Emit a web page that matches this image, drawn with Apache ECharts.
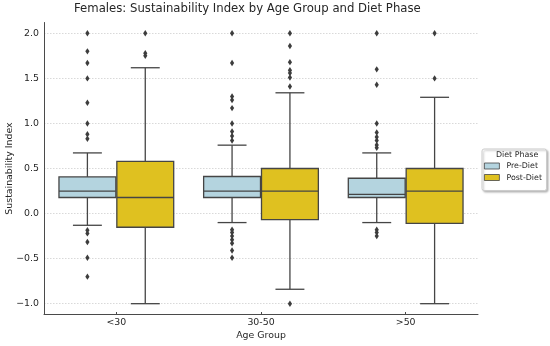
<!DOCTYPE html>
<html><head><meta charset="utf-8">
<script src="https://cdn.jsdelivr.net/npm/echarts@6/dist/echarts.min.js"></script>
<style>html,body{margin:0;padding:0;background:#fff}#c{width:550px;height:346px}</style>
</head><body><div id="c"></div>
<script>
// ---- data ----
const categories = ['<30', '30-50', '>50'];
const phases = ['Pre-Diet', 'Post-Diet'];
// each box: [lower whisker, Q1, median, Q3, upper whisker]
const preBoxes = [
  [-0.13, 0.178, 0.25, 0.407, 0.673],
  [-0.10, 0.178, 0.25, 0.411, 0.759],
  [-0.10, 0.178, 0.214, 0.392, 0.673]
];
const postBoxes = [
  [-1.0, -0.152, 0.178, 0.578, 1.618],
  [-0.84, -0.067, 0.25, 0.50, 1.34],
  [-1.0, -0.108, 0.25, 0.50, 1.29]
];
const preOutliers = [
  [2.0, 1.80, 1.67, 1.50, 1.23, 1.0, 0.88, 0.83, -0.185, -0.22, -0.315, -0.49, -0.70],
  [2.0, 1.67, 1.30, 1.26, 1.17, 1.0, 0.91, 0.86, 0.81, -0.18, -0.21, -0.25, -0.29, -0.33, -0.41, -0.49],
  [2.0, 1.60, 1.43, 1.0, 0.90, 0.85, 0.81, 0.76, 0.73, -0.18, -0.21, -0.25]
];
const postOutliers = [
  [2.0, 1.78, 1.75],
  [2.0, 1.86, 1.68, 1.59, 1.56, 1.51, 1.41, -1.0],
  [2.0, 1.50]
];
const yTickInterval = 0.5;

// ---- styles ----
const boxColors = ['#b4d4df', '#dfc120'];
const edgeColor = '#454545';
const textColor = '#262626';

function boxData(boxes) {
  return boxes.map((b, i) => [i].concat(b));
}
function outlierData(outs) {
  const arr = [];
  outs.forEach((vals, i) => vals.forEach(v => arr.push([i, v])));
  return arr;
}

function makeBoxRender(slot) {
  return function (params, api) {
    const cat = api.value(0);
    const band = api.size([1, 0])[0];
    const groupW = band * 0.8;
    const boxW = groupW / 2;
    const c0 = api.coord([cat, 0])[0];
    const cx = c0 - groupW / 2 + boxW * (slot + 0.5);
    const halfW = boxW / 2 - 0.5;
    const y = k => api.coord([cat, api.value(k)])[1];
    const lo = y(1), q1 = y(2), med = y(3), q3 = y(4), hi = y(5);
    const capW = boxW * 0.25;
    const ls = { stroke: edgeColor, lineWidth: 1.3 };
    return {
      type: 'group',
      children: [
        { type: 'line', shape: { x1: cx, y1: q3, x2: cx, y2: hi }, style: ls },
        { type: 'line', shape: { x1: cx, y1: q1, x2: cx, y2: lo }, style: ls },
        { type: 'line', shape: { x1: cx - capW, y1: hi, x2: cx + capW, y2: hi }, style: ls },
        { type: 'line', shape: { x1: cx - capW, y1: lo, x2: cx + capW, y2: lo }, style: ls },
        { type: 'rect', shape: { x: cx - halfW, y: q3, width: halfW * 2, height: q1 - q3 },
          style: { fill: boxColors[slot], stroke: edgeColor, lineWidth: 1.3 } },
        { type: 'line', shape: { x1: cx - halfW, y1: med, x2: cx + halfW, y2: med }, style: ls }
      ]
    };
  };
}

function makeOutlierRender(slot) {
  return function (params, api) {
    const cat = api.value(0);
    const band = api.size([1, 0])[0];
    const groupW = band * 0.8;
    const boxW = groupW / 2;
    const p = api.coord([cat, api.value(1)]);
    const cx = p[0] - groupW / 2 + boxW * (slot + 0.5);
    const cy = p[1];
    const w = 2.1, h = 3.2;
    return {
      type: 'polygon',
      shape: { points: [[cx, cy - h], [cx + w, cy], [cx, cy + h], [cx - w, cy]] },
      style: { fill: '#3d3d3d', stroke: null }
    };
  };
}

const chart = echarts.init(document.getElementById('c'), null, { renderer: 'canvas' });
const series = [];
[preBoxes, postBoxes].forEach((boxes, s) => {
  series.push({
    name: phases[s], type: 'custom', renderItem: makeBoxRender(s),
    data: boxData(boxes), encode: { x: 0, y: [1, 2, 3, 4, 5] },
    itemStyle: { color: boxColors[s], borderColor: edgeColor, borderWidth: 1 },
    z: 3
  });
});
[preOutliers, postOutliers].forEach((outs, s) => {
  series.push({
    name: phases[s] + ' outliers', type: 'custom', renderItem: makeOutlierRender(s),
    data: outlierData(outs), encode: { x: 0, y: 1 }, z: 4
  });
});

chart.setOption({
  animation: false,
  backgroundColor: '#fff',
  title: {
    text: 'Females: Sustainability Index by Age Group and Diet Phase',
    left: 74, top: 3, padding: 0,
    textStyle: { fontFamily: 'DejaVu Sans', fontSize: 11.7, fontWeight: 'normal', color: textColor }
  },
  grid: { left: 44, right: 72, top: 22.5, bottom: 31.5, containLabel: false, outerBoundsMode: 'none' },
  xAxis: {
    type: 'category', data: categories, boundaryGap: true,
    name: 'Age Group', nameLocation: 'middle', nameGap: 17, nameMoveOverlap: false,
    nameTextStyle: { fontFamily: 'DejaVu Sans', fontSize: 9.4, color: textColor },
    axisLine: { onZero: false, lineStyle: { color: '#4a4a4a', width: 1 } },
    axisTick: { show: true, inside: true, length: 2.5, alignWithLabel: true, lineStyle: { color: '#4a4a4a' } },
    axisLabel: { fontFamily: 'DejaVu Sans', fontSize: 9.4, color: textColor, margin: 4 },
    splitLine: { show: false }
  },
  yAxis: {
    type: 'value', min: -1.12, max: 2.12, splitNumber: 6,
    name: 'Sustainability Index', nameLocation: 'middle', nameGap: 30, nameRotate: 90, nameMoveOverlap: false,
    nameTextStyle: { fontFamily: 'DejaVu Sans', fontSize: 9.4, color: textColor },
    axisLine: { show: true, onZero: false, lineStyle: { color: '#4a4a4a', width: 1 } },
    axisTick: { show: false },
    axisLabel: {
      fontFamily: 'DejaVu Sans', fontSize: 9.4, color: textColor, margin: 5,
      showMinLabel: false, showMaxLabel: false,
      formatter: v => (Math.abs(v % yTickInterval) > 1e-6 && Math.abs(Math.abs(v % yTickInterval) - yTickInterval) > 1e-6) ? '' : (v < 0 ? '\u2212' + Math.abs(v).toFixed(1) : v.toFixed(1))
    },
    splitLine: { show: true, showMinLine: false, showMaxLine: false, lineStyle: { color: '#cfcfcf', type: [1.5, 1.5], width: 0.8 } }
  },
  legend: {
    data: phases, orient: 'vertical', left: 484, top: 162,
    itemWidth: 15, itemHeight: 6, itemGap: 3.5, padding: 0,
    icon: 'rect',
    itemStyle: { borderColor: edgeColor, borderWidth: 0.8 },
    textStyle: { fontFamily: 'DejaVu Sans', fontSize: 7.9, color: textColor, padding: [0, 0, 0, 2] },
    selectedMode: false
  },
  graphic: [
    { type: 'rect', left: 481.5, top: 148.5, z: -1,
      shape: { width: 64.5, height: 41.5, r: 2 },
      style: { fill: '#fff', stroke: '#cccccc', lineWidth: 1, shadowBlur: 2, shadowOffsetX: 1.5, shadowOffsetY: 1.5, shadowColor: 'rgba(0,0,0,0.25)' } },
    { type: 'text', left: 496, top: 150.5, z: 10,
      style: { text: 'Diet Phase', fontFamily: 'DejaVu Sans', fontSize: 7.9, fill: textColor } }
  ],
  series: series
});
</script>
</body></html>
